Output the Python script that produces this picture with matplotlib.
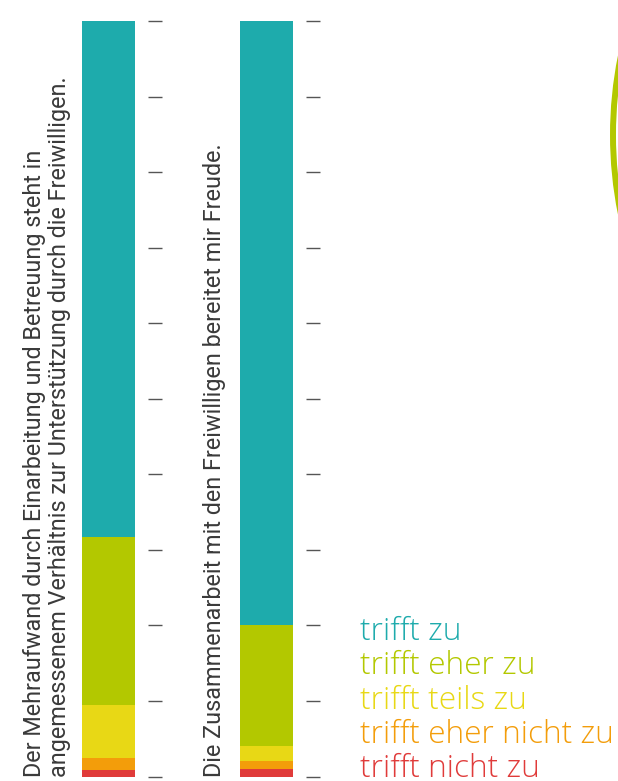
import matplotlib.pyplot as plt
from matplotlib.patches import Circle

# answer categories, bottom to top in the stacked bars
categories = ["trifft nicht zu", "trifft eher nicht zu", "trifft teils zu",
              "trifft eher zu", "trifft zu"]
colors = ["#E03B3A", "#F39D0A", "#E8D815", "#B3C800", "#1EABAC"]

# shares in percent for each statement
mehraufwand = [0.9, 1.6, 7.0, 22.2, 68.3]
freude = [1.0, 1.0, 2.0, 16.0, 80.0]

label_mehraufwand = ["Der Mehraufwand durch Einarbeitung und Betreuung steht in",
                     "angemessenem Verhältnis zur Unterstützung durch die Freiwilligen."]
label_freude = ["Die Zusammenarbeit mit den Freiwilligen bereitet mir Freude."]

W, H = 618, 781
fig = plt.figure(figsize=(W / 100, H / 100), dpi=100)


def stacked_bar(left_px, values):
    ax = fig.add_axes([left_px / W, 4.5 / H, 66 / W, 755.5 / H])
    bottom = 0
    for v, c in zip(values, colors):
        ax.bar(0, v, bottom=bottom, width=1, align="edge", color=c, linewidth=0)
        bottom += v
    ax.set_xlim(0, 66 / 53)
    ax.set_ylim(0, 100)
    for s in ax.spines.values():
        s.set_visible(False)
    ax.set_xticks([])
    ax.set_yticks(range(0, 101, 10))
    ax.yaxis.tick_right()
    ax.tick_params(axis="y", direction="out", length=10, width=1, color="#555555",
                   labelright=False, labelleft=False)
    return ax


stacked_bar(82, mehraufwand)
stacked_bar(240, freude)

# rotated statement labels
text_kw = dict(rotation=90, rotation_mode="anchor", ha="left", va="baseline",
               color="#3a3a3a", fontsize=16.8, family="Roboto")
for i, line in enumerate(label_mehraufwand):
    fig.text((41 + 25 * i) / W, 4 / H, line, **text_kw)
fig.text(221 / W, 4 / H, label_freude[0], **text_kw)

# legend as coloured words
for i, (cat, c) in enumerate(zip(categories[::-1], colors[::-1])):
    fig.text(360 / W, 1 - (640 + 34.3 * i) / H, cat, color=c, fontsize=22.8,
             family="Open Sans", fontweight="light", va="baseline", ha="left")

# part of the circle on the right edge
fig.add_artist(Circle((1014 / 100, (H - 135) / 100), 4.01, transform=fig.dpi_scale_trans,
                      fill=False, ec="#B3C800", lw=4.3))

fig.savefig("out.png", dpi=100)
